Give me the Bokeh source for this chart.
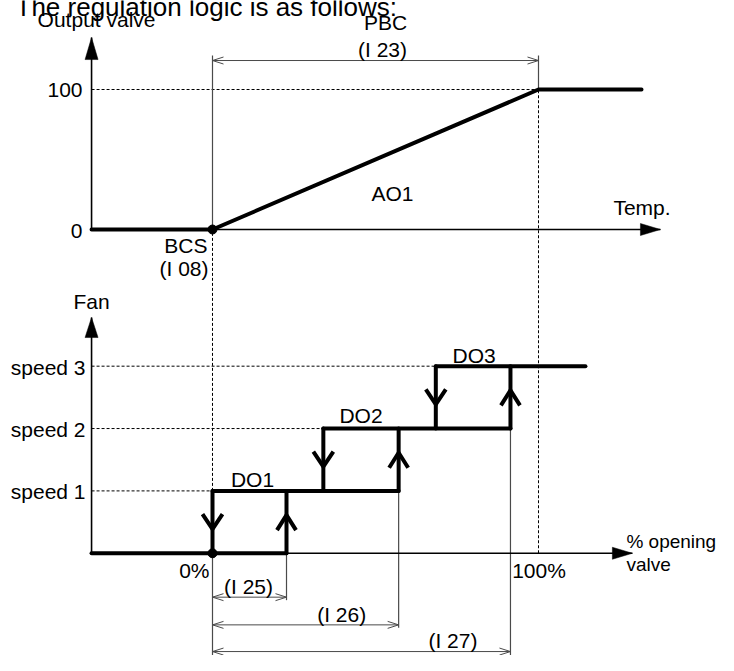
from bokeh.plotting import figure
from bokeh.models import Range1d
from bokeh.core.properties import value
from bokeh.embed import file_html
from bokeh.resources import INLINE

# ---------------- data ----------------
title_text = "The regulation logic is as follows:"

# upper diagram: analogue output AO1 against temperature (0 = BCS, 100 = end of band PBC)
ao1_temp = [-37.1, 0.0, 100.0, 131.6]
ao1_output = [0.0, 0.0, 100.0, 100.0]
output_ticks = [0, 100]
output_tick_labels = ["0", "100"]
bcs_point = 0.0
pbc_point = 100.0
temp_axis_end = 137.4
output_axis_top = 137.1
pbc_dim_level = 120.7
pbc_ext_top = 124.3
axis_x = -37.1

# lower diagram: fan speed against % opening valve
speed_levels = [1, 2, 3]
speed_labels = ["speed 1", "speed 2", "speed 3"]
do_labels = ["DO1", "DO2", "DO3"]
do_on = [22.7, 57.1, 91.4]     # opening at which the speed switches on
do_off = [0.0, 34.0, 68.5]     # opening at which the speed switches off
dim_labels = ["(I 25)", "(I 26)", "(I 27)"]
pct_ticks = [0, 100]
pct_tick_labels = ["0%", "100%"]
fan_line_end = 114.4
valve_axis_end = 128.8
fan_axis_top = 3.78

# ---------------- layout ----------------
W, H = 718, 655
X0, XPX = 212.0, 3.26          # canvas px of 0 %, px per %
OUT0, OUT_PX = 229.0, 1.4      # canvas px of output 0, px per output unit


def lower_y(r):
    # lower diagram is compressed slightly so that it fits the canvas height
    return 317.0 + (r - 317.0) * 0.9545


FAN0 = lower_y(564)
FAN_PX = (lower_y(564) - lower_y(368)) / 3.0


def dx(px):
    return px / XPX


def dyo(px):
    return px / OUT_PX


def dyf(px):
    return px / FAN_PX


def out_to_fan(v):
    return (FAN0 - (OUT0 - v * OUT_PX)) / FAN_PX


x_range = Range1d((0 - X0) / XPX, (W - X0) / XPX)
y_range = Range1d((OUT0 - H) / OUT_PX, OUT0 / OUT_PX)
fan_range = Range1d((FAN0 - H) / FAN_PX, FAN0 / FAN_PX)

p = figure(width=W, height=H, x_range=x_range, y_range=y_range,
           output_backend="svg", toolbar_location=None,
           x_axis_location=None, y_axis_location=None, min_border=0,
           outline_line_color=None, background_fill_color="white",
           border_fill_color="white")
p.extra_y_ranges = {"fan": fan_range}
p.xgrid.grid_line_color = None
p.ygrid.grid_line_color = None

BLACK = "black"
GREY = "#4a4a4a"
FONT = value("Liberation Sans")
TXT = dict(text_font=FONT, text_font_size="21px", text_color=BLACK)
DASH = "3 2"
F = "fan"
fan_bottom = fan_range.start

# ---------- upper diagram ----------
p.line([axis_x, pbc_point], [100, 100], line_color=BLACK, line_width=1, line_dash=DASH)
p.multi_line([[bcs_point, bcs_point], [pbc_point, pbc_point]],
             [[0, pbc_ext_top], [100, pbc_ext_top]], line_color=GREY, line_width=1.2)
p.line([bcs_point, pbc_point], [pbc_dim_level, pbc_dim_level], line_color=GREY, line_width=1)
L, Wd = 11, 3.5
p.multi_line([[bcs_point + dx(L), bcs_point, bcs_point + dx(L)],
              [pbc_point - dx(L), pbc_point, pbc_point - dx(L)]],
             [[pbc_dim_level + dyo(Wd), pbc_dim_level, pbc_dim_level - dyo(Wd)]] * 2,
             line_color=GREY, line_width=1)
p.line([axis_x, temp_axis_end], [0, 0], line_color=BLACK, line_width=1.6)
p.line([axis_x, axis_x], [0, output_axis_top], line_color=BLACK, line_width=1.6)
p.patches([[temp_axis_end, temp_axis_end - dx(20), temp_axis_end - dx(20)],
           [axis_x, axis_x - dx(6.5), axis_x + dx(6.5)]],
          [[0, dyo(6), -dyo(6)],
           [output_axis_top, output_axis_top - dyo(22), output_axis_top - dyo(22)]],
          fill_color=BLACK, line_color=BLACK, line_width=0.5)
p.line(ao1_temp, ao1_output, line_color=BLACK, line_width=4, line_cap="round", line_join="round")
p.scatter([bcs_point], [0], size=9, color=BLACK)

# ---------- vertical dashed links between the diagrams ----------
p.multi_line([[bcs_point, bcs_point], [pbc_point, pbc_point]],
             [[speed_levels[0], out_to_fan(0)], [0, out_to_fan(100)]],
             y_range_name=F, line_color=BLACK, line_width=1, line_dash=DASH)

# ---------- lower diagram ----------
p.multi_line([[axis_x, do_off[i]] for i in range(3)],
             [[lv, lv] for lv in speed_levels], y_range_name=F,
             line_color=BLACK, line_width=1, line_dash=DASH)
dim_px = [43.9, 71.6, 98.3]
dim_levels = [-dyf(d) for d in dim_px]
ext_xs = [[do_off[0], do_off[0]]]
ext_ys = [[0, fan_bottom]]
for i in range(3):
    ext_xs.append([do_on[i], do_on[i]])
    ext_ys.append([i, dim_levels[i] - dyf(3 if i < 2 else 12)])
p.multi_line(ext_xs, ext_ys, y_range_name=F, line_color=GREY, line_width=1.2)
p.multi_line([[do_off[0], do_on[i]] for i in range(3)],
             [[dim_levels[i], dim_levels[i]] for i in range(3)],
             y_range_name=F, line_color=GREY, line_width=1)
hx, hy = [], []
for i in range(3):
    y = dim_levels[i]
    hx += [[do_off[0] + dx(L), do_off[0], do_off[0] + dx(L)],
           [do_on[i] - dx(L), do_on[i], do_on[i] - dx(L)]]
    hy += [[y + dyf(Wd), y, y - dyf(Wd)]] * 2
p.multi_line(hx, hy, y_range_name=F, line_color=GREY, line_width=1)
p.line([axis_x, valve_axis_end], [0, 0], y_range_name=F, line_color=BLACK, line_width=1.6)
p.line([axis_x, axis_x], [0, fan_axis_top], y_range_name=F, line_color=BLACK, line_width=1.6)
p.patches([[valve_axis_end, valve_axis_end - dx(20), valve_axis_end - dx(20)],
           [axis_x, axis_x - dx(6.5), axis_x + dx(6.5)]],
          [[0, dyf(6), -dyf(6)],
           [fan_axis_top, fan_axis_top - dyf(20), fan_axis_top - dyf(20)]],
          y_range_name=F, fill_color=BLACK, line_color=BLACK, line_width=0.5)
sx = [[axis_x, do_on[0]]]
sy = [[0, 0]]
for i, lv in enumerate(speed_levels):
    right = do_on[i + 1] if i < 2 else fan_line_end
    sx.append([do_off[i], right])
    sy.append([lv, lv])
    sx.append([do_off[i], do_off[i]])
    sy.append([lv - 1, lv])
    sx.append([do_on[i], do_on[i]])
    sy.append([lv - 1, lv])
p.multi_line(sx, sy, y_range_name=F, line_color=BLACK, line_width=4, line_cap="round")
cx, cy = [], []
for i, lv in enumerate(speed_levels):
    mid = lv - 0.5
    t = mid - dyf(7)
    cx.append([do_off[i] - dx(10), do_off[i], do_off[i] + dx(10)])
    cy.append([t + dyf(15), t, t + dyf(15)])
    t = mid + dyf(7)
    cx.append([do_on[i] - dx(9.5), do_on[i], do_on[i] + dx(9.5)])
    cy.append([t - dyf(15), t, t - dyf(15)])
p.multi_line(cx, cy, y_range_name=F, line_color=BLACK, line_width=4, line_join="miter")
p.scatter([do_off[0]], [0], y_range_name=F, size=9, color=BLACK)

# ---------- texts ----------
p.text(x=[(15 - X0) / XPX], y=[(OUT0 - 6) / OUT_PX], text=[title_text],
       text_align="left", text_baseline="alphabetic",
       text_font=FONT, text_font_size="26px", text_color=BLACK)
p.text(x=[axis_x], y=[output_axis_top], text=["Output valve"], x_offset=5, y_offset=-18,
       text_align="center", text_baseline="middle", **TXT)
p.text(x=[axis_x] * 2, y=output_ticks, text=output_tick_labels, x_offset=-9, y_offset=[1, 0],
       text_align="right", text_baseline="middle", **TXT)
p.text(x=[bcs_point] * 2, y=[0, 0], text=["BCS", "(I 08)"], x_offset=[-5, -4], y_offset=[16.3, 38.5],
       text_align="right", text_baseline="middle", **TXT)
p.text(x=[(bcs_point + pbc_point) / 2], y=[0], text=["AO1"], x_offset=17, y_offset=-36.5,
       text_align="center", text_baseline="middle", **TXT)
p.text(x=[temp_axis_end], y=[0], text=["Temp."], x_offset=-47, y_offset=-21.8,
       text_align="left", text_baseline="middle", **TXT)
p.text(x=[(bcs_point + pbc_point) / 2] * 2, y=[pbc_dim_level] * 2, text=["PBC", "(I 23)"],
       x_offset=[10, 7], y_offset=[-38, -11.5], text_align="center", text_baseline="middle", **TXT)

p.text(x=[axis_x], y=[fan_axis_top], text=["Fan"], y_offset=-16.5, y_range_name=F,
       text_align="center", text_baseline="middle", **TXT)
p.text(x=[axis_x] * 3, y=speed_levels, text=speed_labels, x_offset=-6, y_offset=1, y_range_name=F,
       text_align="right", text_baseline="alphabetic", **TXT)
p.text(x=[(a + b) / 2 for a, b in zip(do_off, do_on)], y=speed_levels, text=do_labels,
       x_offset=[3, 0, 1], y_offset=[-11, -13.4, -10.8], y_range_name=F,
       text_align="center", text_baseline="middle", **TXT)
p.text(x=[pct_ticks[0]], y=[0], text=[pct_tick_labels[0]], x_offset=-3, y_offset=17, y_range_name=F,
       text_align="right", text_baseline="middle", **TXT)
p.text(x=[pct_ticks[1]], y=[0], text=[pct_tick_labels[1]], x_offset=0.5, y_offset=17, y_range_name=F,
       text_align="center", text_baseline="middle", **TXT)
p.text(x=[valve_axis_end] * 2, y=[0, 0], text=["% opening", "valve"], x_offset=-6, y_offset=[-11.7, 11.7],
       y_range_name=F, text_align="left", text_baseline="middle",
       text_font=FONT, text_font_size="19px", text_color=BLACK)
p.text(x=do_on, y=dim_levels, text=dim_labels, x_offset=[-38, -57, -57.5], y_offset=[-11, -10.5, -11.5],
       y_range_name=F, text_align="center", text_baseline="middle", **TXT)

open("out.html", "w").write(file_html(p, INLINE))
